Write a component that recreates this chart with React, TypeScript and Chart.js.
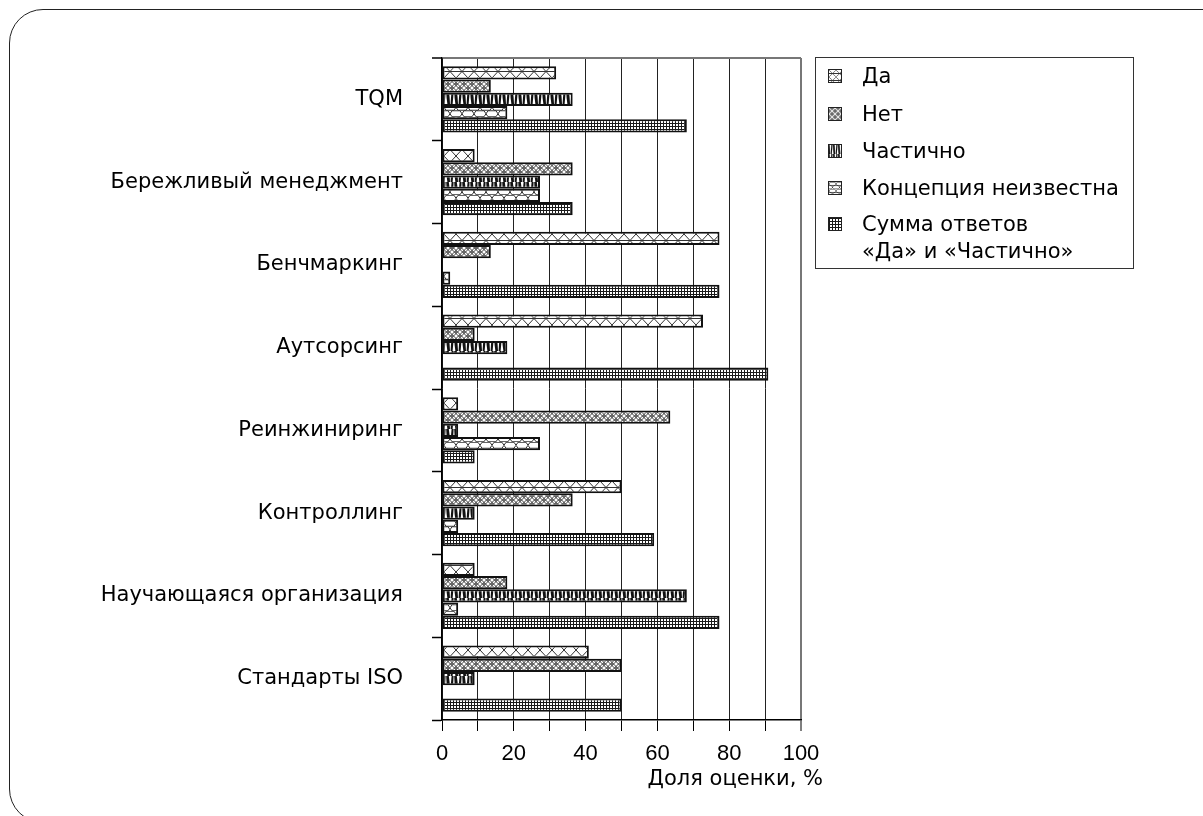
import React, { useEffect, useRef, useMemo } from 'react';
import { Chart, registerables } from 'chart.js';

Chart.register(...registerables);

const categories = [
  'TQM',
  'Бережливый менеджмент',
  'Бенчмаркинг',
  'Аутсорсинг',
  'Реинжиниринг',
  'Контроллинг',
  'Научающаяся организация',
  'Стандарты ISO',
];

const seriesNames = ['Да', 'Нет', 'Частично', 'Концепция неизвестна', 'Сумма ответов «Да» и «Частично»'];

const yesValues = [31.8, 9.1, 77.3, 72.7, 4.5, 50.0, 9.1, 40.9];
const noValues = [13.6, 36.4, 13.6, 9.1, 63.6, 36.4, 18.2, 50.0];
const partlyValues = [36.4, 27.3, 0, 18.2, 4.5, 9.1, 68.2, 9.1];
const unknownValues = [18.2, 27.3, 2.3, 0, 27.3, 4.5, 4.5, 0];
const sumValues = [68.2, 36.4, 77.3, 90.9, 9.1, 59.1, 77.3, 50.0];

const xTickLabels = ['0', '20', '40', '60', '80', '100'];
const xTitle = 'Доля оценки, %';

const FONT = '"DejaVu Sans", "Liberation Sans", Arial, sans-serif';
const NUM_FONT = '"Liberation Sans", Arial, Helvetica, sans-serif';

type Draw = (g: CanvasRenderingContext2D) => void;

function makeTile(w: number, h: number, draw: Draw): HTMLCanvasElement {
  const c = document.createElement('canvas');
  c.width = w;
  c.height = h;
  const g = c.getContext('2d')!;
  g.fillStyle = '#fff';
  g.fillRect(0, 0, w, h);
  draw(g);
  return c;
}

function makeTiles(): HTMLCanvasElement[] {
  // Да: triangle lattice
  const yes = makeTile(12, 13, (g) => {
    g.strokeStyle = '#333';
    g.lineWidth = 1;
    g.beginPath();
    g.moveTo(0, 0); g.lineTo(12, 13);
    g.moveTo(12, 0); g.lineTo(0, 13);
    g.moveTo(0, 6.5); g.lineTo(12, 6.5);
    g.stroke();
  });
  // Нет: overlapping circles
  const no = makeTile(8, 8, (g) => {
    g.strokeStyle = '#555';
    g.lineWidth = 0.9;
    const pts = [[0, 0], [8, 0], [0, 8], [8, 8], [4, 4]];
    for (const [x, y] of pts) {
      g.beginPath();
      g.arc(x, y, 4, 0, Math.PI * 2);
      g.stroke();
    }
  });
  // Частично: black with white curved wedges
  const partly = makeTile(8, 13, (g) => {
    g.fillStyle = '#111';
    g.fillRect(0, 0, 8, 13);
    g.fillStyle = '#fff';
    g.beginPath();
    g.moveTo(0.8, 0);
    g.lineTo(3.6, 0);
    g.quadraticCurveTo(2.8, 8, 2.6, 13);
    g.lineTo(2.0, 13);
    g.quadraticCurveTo(1.8, 6, 0.8, 0);
    g.closePath();
    g.fill();
    g.beginPath();
    g.moveTo(5.6, 0);
    g.lineTo(6.2, 0);
    g.quadraticCurveTo(6.4, 7, 7.4, 13);
    g.lineTo(4.6, 13);
    g.quadraticCurveTo(5.4, 6, 5.6, 0);
    g.closePath();
    g.fill();
  });
  // Концепция неизвестна: rows of elongated hexagons
  const unknown = makeTile(12, 13, (g) => {
    g.strokeStyle = '#333';
    g.lineWidth = 1;
    const hex = (cx: number, cy: number) => {
      g.beginPath();
      g.moveTo(cx - 6, cy);
      g.lineTo(cx - 4, cy - 3);
      g.lineTo(cx + 4, cy - 3);
      g.lineTo(cx + 6, cy);
      g.lineTo(cx + 4, cy + 3);
      g.lineTo(cx - 4, cy + 3);
      g.closePath();
      g.stroke();
    };
    hex(6, 3.25);
    hex(0, 9.75);
    hex(12, 9.75);
  });
  // Сумма: fine dark grid
  const sum = makeTile(3, 3, (g) => {
    g.fillStyle = '#1a1a1a';
    g.fillRect(0, 0, 3, 1);
    g.fillRect(0, 0, 1, 3);
  });
  return [yes, no, partly, unknown, sum];
}

const axisTitlePlugin = {
  id: 'axisTitleRight',
  afterDraw(chart: any) {
    const { ctx } = chart;
    const xs = chart.scales.x;
    ctx.save();
    ctx.font = `21px ${FONT}`;
    ctx.fillStyle = '#000';
    ctx.textAlign = 'right';
    ctx.textBaseline = 'middle';
    ctx.fillText(xTitle, xs.right + 22, xs.top + 60);
    ctx.restore();
  },
};

export default function App() {
  const ref = useRef<HTMLCanvasElement>(null);
  const tiles = useMemo(() => makeTiles(), []);
  const swatches = useMemo(() => tiles.map((t) => t.toDataURL()), [tiles]);

  useEffect(() => {
    const canvas = ref.current!;
    const ctx = canvas.getContext('2d')!;
    const pats = tiles.map((t) => ctx.createPattern(t, 'repeat')!);
    const values = [yesValues, noValues, partlyValues, unknownValues, sumValues];
    const chart = new Chart(ctx, {
      type: 'bar',
      data: {
        labels: categories,
        datasets: values.map((v, i) => ({
          label: seriesNames[i],
          data: v,
          backgroundColor: pats[i] as any,
          borderColor: '#111',
          borderWidth: 2,
          borderSkipped: false,
          categoryPercentage: 0.8,
          barPercentage: 1,
        })),
      },
      options: {
        indexAxis: 'y',
        responsive: false,
        animation: false,
        devicePixelRatio: 1,
        layout: { padding: { left: 0, top: 58, right: 402, bottom: 16 } },
        plugins: { legend: { display: false }, tooltip: { enabled: false } },
        scales: {
          x: {
            min: 0,
            max: 100,
            ticks: {
              stepSize: 10,
              autoSkip: false,
              maxRotation: 0,
              color: '#000',
              font: { family: NUM_FONT, size: 22 },
              padding: 10,
              callback: (v: any) => {
                const s = String(v);
                return xTickLabels.includes(s) ? s : '';
              },
            },
            grid: {
              color: (c: any) => (c.tick && c.tick.value === 100 ? '#777' : '#222'),
              lineWidth: (c: any) => (c.tick && c.tick.value === 100 ? 2 : 1),
              tickLength: 11,
              tickColor: '#000',
              tickWidth: 1,
            },
            border: { display: true, color: '#000', width: 1.5 },
            afterFit: (s: any) => {
              s.height = 80;
            },
          },
          y: {
            ticks: {
              color: '#000',
              font: { family: FONT, size: 21 },
              padding: 29,
              autoSkip: false,
            },
            grid: {
              offset: true,
              drawOnChartArea: true,
              color: (c: any) => (c.index === 0 ? '#777' : 'rgba(0,0,0,0)'),
              lineWidth: (c: any) => (c.index === 0 ? 2 : 1),
              tickLength: 10,
              tickColor: '#000',
              tickWidth: 1.5,
            },
            border: { display: true, color: '#000', width: 1.5 },
            afterFit: (s: any) => {
              s.width = 442;
            },
          },
        },
      },
      plugins: [axisTitlePlugin],
    });
    return () => chart.destroy();
  }, [tiles]);

  const legendTops = [18, 56, 93, 130, 166];

  return (
    <div
      style={{
        position: 'fixed',
        left: 0,
        top: 0,
        width: 1203,
        height: 816,
        overflow: 'hidden',
        background: '#fff',
      }}
    >
      <div
        style={{
          position: 'absolute',
          left: 9,
          top: 9,
          width: 1300,
          height: 814,
          border: '1.5px solid #222',
          borderRadius: 34,
          boxSizing: 'border-box',
        }}
      />
      <canvas ref={ref} width={1203} height={816} style={{ position: 'absolute', left: 0, top: 0 }} />
      <div
        style={{
          position: 'absolute',
          left: 815,
          top: 57,
          width: 319,
          height: 212,
          border: '1.5px solid #333',
          boxSizing: 'border-box',
          fontFamily: FONT,
          fontSize: 21,
          color: '#000',
        }}
      >
        {seriesNames.map((name, i) => {
          const lines = i === 4 ? ['Сумма ответов', '«Да» и «Частично»'] : [name];
          return (
            <div key={name} style={{ position: 'absolute', left: 0, top: legendTops[i] - 12, width: '100%' }}>
              <div
                style={{
                  position: 'absolute',
                  left: 12,
                  top: 5,
                  width: 14,
                  height: 14,
                  border: '1px solid #222',
                  boxSizing: 'border-box',
                  backgroundImage: `url(${swatches[i]})`,
                  backgroundSize: i === 4 ? '3px 3px' : i === 2 ? '5px 9px' : i === 1 ? '6px 6px' : '7px 7px',
                }}
              />
              <div style={{ position: 'absolute', left: 46, top: 0, lineHeight: '24px', whiteSpace: 'nowrap' }}>
                {lines.map((l, k) => (
                  <div key={k} style={{ height: k === 0 ? 27 : 24 }}>{l}</div>
                ))}
              </div>
            </div>
          );
        })}
      </div>
    </div>
  );
}
